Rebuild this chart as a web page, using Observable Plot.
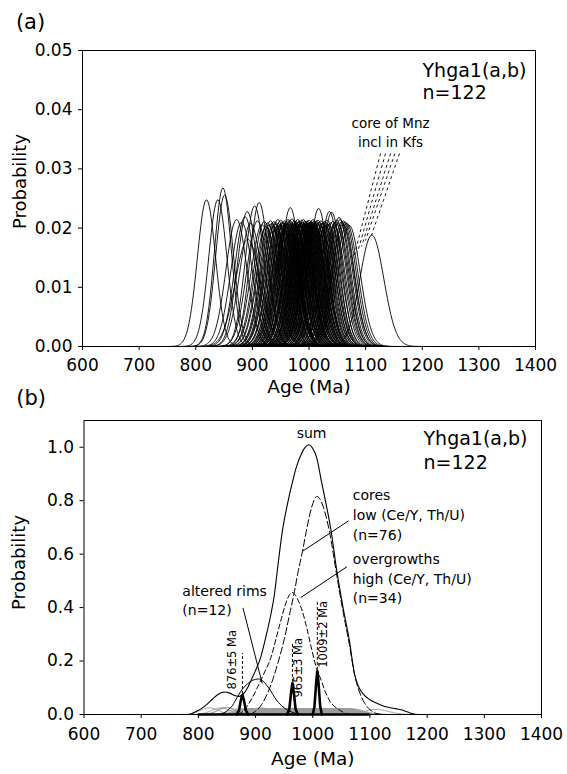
<!DOCTYPE html>
<html><head><meta charset="utf-8">
<script src="https://cdn.jsdelivr.net/npm/d3@7"></script>
<script src="https://cdn.jsdelivr.net/npm/@observablehq/plot@0.6"></script>
<style>
html,body{margin:0;padding:0;background:#fff;}
#wrap{position:relative;width:567px;height:774px;overflow:hidden;background:#fff;}
#wrap svg{position:absolute;left:0;overflow:visible;}
</style></head><body><div id="wrap"></div>
<script>
// ---------- DATA ----------
const xTicks = [600, 700, 800, 900, 1000, 1100, 1200, 1300, 1400];
const yTicksA = [0, 0.01, 0.02, 0.03, 0.04, 0.05];
const yTicksB = [0, 0.2, 0.4, 0.6, 0.8, 1.0];

// individual spot ages (Ma) and 1-sigma errors, n = 122
const ages = [
  819, 839, 848, 851,
  872, 881, 887, 891, 892, 897, 904, 909, 912,
  917, 921, 924,
  927, 929, 932, 934,
  936, 938, 940, 941, 943, 945,
  946, 948, 950, 951, 953, 954,
  955, 956, 958, 959, 960, 961, 962, 963, 964,
  965, 966, 967, 968, 970, 970, 971, 973, 974, 975,
  976, 977, 977, 979, 980, 981, 982, 983, 984, 985,
  986, 987, 988, 988, 989, 990, 991, 992, 993, 994, 995,
  996, 997, 998, 999, 1000, 1001, 1002, 1003, 1004, 1005,
  1006, 1007, 1008, 1009, 1009, 1010, 1012, 1013, 1014,
  1015, 1016, 1017, 1018, 1019, 1021, 1022, 1024,
  1026, 1027, 1029, 1030, 1032, 1034,
  1036, 1038, 1040, 1042, 1044,
  1047, 1049, 1051, 1053, 1055,
  1058, 1060, 1061, 1064,
  1067, 1071,
  1111
];
const sigmas = [
  16.1, 16.1, 14.9, 15.6,
  18.6, 19.0, 18.2, 17.5, 22.0, 19.2, 16.8, 18.8, 16.4,
  19.4, 18.9, 19.7,
  19.1, 19.5, 18.8, 19.2,
  19.6, 18.9, 19.3, 19.0, 19.8, 18.6,
  19.2, 19.5, 18.7, 19.4, 19.0, 19.6,
  19.1, 18.8, 19.4, 19.7, 18.9, 19.2, 19.5, 18.6, 19.3,
  19.0, 18.7, 17.0, 19.4, 19.2, 18.5, 19.6, 19.1, 18.8, 19.3,
  19.5, 18.9, 19.2, 19.7, 18.6, 19.0, 19.4, 18.8, 19.3, 19.6,
  19.1, 18.7, 19.5, 19.0, 19.3, 18.6, 19.8, 19.2, 18.9, 19.4, 19.0,
  19.3, 18.8, 19.6, 19.1, 18.7, 19.4, 19.0, 19.5, 18.9, 19.2,
  19.0, 18.6, 19.3, 19.7, 18.9, 19.2, 19.5, 18.8, 19.1,
  19.4, 18.7, 17.1, 19.0, 19.3, 18.8, 19.6, 19.1,
  19.2, 18.9, 19.5, 19.0, 18.7, 19.3,
  17.5, 19.1, 17.6, 18.9, 19.4,
  19.0, 18.7, 19.2, 18.3, 18.6,
  18.9, 19.3, 18.8, 19.0,
  19.2, 19.5,
  21.2
];

// panel (b) curves
const sumAges  = [785, 795, 805, 815, 825, 835, 845, 855, 865, 872, 880, 886, 892, 900, 909, 918, 927, 933, 938, 947, 955, 965, 972, 980, 987, 993, 1000, 1007, 1015, 1024, 1032, 1042, 1053, 1064, 1073, 1080, 1088, 1100, 1108, 1120, 1132, 1145, 1155, 1165, 1175, 1185];
const sumProbs = [0.000, 0.010, 0.022, 0.038, 0.058, 0.076, 0.084, 0.080, 0.070, 0.068, 0.080, 0.100, 0.127, 0.165, 0.214, 0.290, 0.377, 0.450, 0.538, 0.688, 0.780, 0.874, 0.930, 0.975, 1.000, 1.009, 0.995, 0.960, 0.874, 0.780, 0.688, 0.538, 0.400, 0.277, 0.152, 0.105, 0.077, 0.055, 0.046, 0.035, 0.027, 0.022, 0.018, 0.010, 0.003, 0.000];

const coreAges  = [890, 900, 910, 920, 930, 940, 950, 960, 968, 974, 982, 990, 998, 1003, 1007, 1012, 1018, 1024, 1030, 1036, 1042, 1053, 1064, 1073, 1080, 1090, 1100, 1110, 1120];
const coreProbs = [0.000, 0.012, 0.035, 0.075, 0.130, 0.200, 0.280, 0.380, 0.460, 0.530, 0.610, 0.700, 0.775, 0.805, 0.816, 0.808, 0.780, 0.735, 0.675, 0.600, 0.520, 0.385, 0.262, 0.150, 0.095, 0.045, 0.018, 0.005, 0.000];

const overAges  = [870, 878, 885, 893, 903, 915, 927, 936, 944, 952, 958, 964, 970, 976, 982, 990, 998, 1007, 1015, 1022, 1030, 1037, 1044, 1052, 1060, 1068];
const overProbs = [0.000, 0.012, 0.030, 0.058, 0.100, 0.155, 0.214, 0.285, 0.350, 0.410, 0.443, 0.457, 0.445, 0.420, 0.385, 0.320, 0.245, 0.170, 0.127, 0.085, 0.050, 0.032, 0.021, 0.010, 0.003, 0.000];

const rimAges  = [835, 845, 851, 860, 868, 877, 886, 895, 905, 913, 920, 926, 933, 940, 950, 962, 975, 985];
const rimProbs = [0.000, 0.006, 0.015, 0.035, 0.065, 0.095, 0.115, 0.128, 0.133, 0.125, 0.108, 0.090, 0.065, 0.045, 0.025, 0.010, 0.002, 0.000];

// weighted-mean age peaks
const peakLabels  = ["876\u00b15 Ma", "965\u00b13 Ma", "1009\u00b12 Ma"];
const peakAges    = [877, 964.5, 1008];
const peakHeights = [0.075, 0.120, 0.165];
const spike1Ages = [867, 871, 874, 877, 880, 883, 887];
const spike1Probs = [0, 0.015, 0.050, 0.075, 0.050, 0.015, 0];
const spike2Ages = [955, 959, 962, 964.5, 967, 970, 974];
const spike2Probs = [0, 0.020, 0.080, 0.120, 0.080, 0.020, 0];
const spike3Ages = [1000, 1003, 1006, 1008, 1010, 1013, 1016];
const spike3Probs = [0, 0.030, 0.120, 0.165, 0.120, 0.030, 0];

// ---------- BUILD ----------
const FONT = "'DejaVu Sans', sans-serif";
function pdfCurves() {
  const out = [];
  ages.forEach((a, i) => {
    const s = sigmas[i];
    const k = 1 / (s * Math.sqrt(2 * Math.PI));
    for (let x = a - 5 * s; x <= a + 5 * s + 0.01; x += 1.5) {
      out.push({id: i, x, y: k * Math.exp(-0.5 * ((x - a) / s) ** 2)});
    }
  });
  return out;
}
const curves = pdfCurves();
const zip = (xs, ys, id) => xs.map((x, i) => ({id, x, y: ys[i]}));
const sumData = zip(sumAges, sumProbs, "sum");
const coreData = zip(coreAges, coreProbs, "cores");
const overData = zip(overAges, overProbs, "over");
const rimData = zip(rimAges, rimProbs, "rims");
const spikes = [
  ...zip(spike1Ages, spike1Probs, 1),
  ...zip(spike2Ages, spike2Probs, 2),
  ...zip(spike3Ages, spike3Probs, 3)
];

const style = {fontFamily: FONT, fontSize: "17px", color: "black", background: "transparent", overflow: "visible"};
const T = d => d;
const C = {textAnchor: "middle", lineAnchor: "middle"};

const plotA = Plot.plot({
  width: 567, height: 400,
  marginLeft: 82, marginRight: 32, marginTop: 50, marginBottom: 54,
  style,
  x: {domain: [600, 1400], ticks: xTicks, tickFormat: d => String(d), tickSize: 4, tickPadding: 8, label: null},
  y: {domain: [0, 0.05], ticks: yTicksA, tickFormat: d3.format(".2f"), tickSize: 4, tickPadding: 6, label: null},
  marks: [
    Plot.line(curves, {x: "x", y: "y", z: "id", stroke: "black", strokeWidth: 0.9}),
    Plot.frame({stroke: "black", strokeWidth: 1}),
    Plot.link([0, 1, 2, 3, 4], {
      x1: [1126.3, 1135.1, 1144, 1151.5, 1159.8], y1: [0.0326, 0.0326, 0.0326, 0.0326, 0.0326],
      x2: [1078.6, 1085.7, 1092.8, 1099.8, 1110.4], y2: [0.0149, 0.0159, 0.0169, 0.0179, 0.0188],
      stroke: "black", strokeWidth: 0.9, strokeDasharray: "3,3"
    }),
    Plot.text(["core of Mnz"], {text: T, x: 1144, y: 0.0377, fontSize: 13.5, ...C}),
    Plot.text(["incl in Kfs"], {text: T, x: 1144, y: 0.0344, fontSize: 13.5, ...C}),
    Plot.text(["Yhga1(a,b)"], {text: T, frameAnchor: "top-right", dx: -113, dy: 20, textAnchor: "start", lineAnchor: "middle", fontSize: 19}),
    Plot.text(["n=122"], {text: T, frameAnchor: "top-right", dx: -113, dy: 42, textAnchor: "start", lineAnchor: "middle", fontSize: 19}),
    Plot.text(["Age (Ma)"], {text: T, frameAnchor: "bottom", dy: 41, fontSize: 18.5, ...C}),
    Plot.text(["Probability"], {text: T, frameAnchor: "left", dx: -62.5, dy: -17, rotate: -90, fontSize: 18, ...C}),
    Plot.text(["(a)"], {text: T, frameAnchor: "top-left", dx: -52, dy: -28, fontSize: 21, ...C})
  ]
});

const plotB = Plot.plot({
  width: 567, height: 374,
  marginLeft: 83.5, marginRight: 26, marginTop: 20, marginBottom: 60,
  style,
  x: {domain: [600, 1400], ticks: xTicks, tickFormat: d => String(d), tickSize: 4, tickPadding: 9, label: null},
  y: {domain: [0, 1.1], ticks: yTicksB, tickFormat: d3.format(".1f"), tickSize: 4, tickPadding: 6, label: null},
  marks: [
    Plot.line(curves, {x: "x", y: "y", z: "id", stroke: "#9c9c9c", strokeWidth: 1}),
    Plot.ruleY([0], {x1: 800, x2: 1100, stroke: "black", strokeWidth: 2.5}),
    Plot.line(rimData, {x: "x", y: "y", stroke: "black", strokeWidth: 1, curve: "monotone-x"}),
    Plot.line(overData, {x: "x", y: "y", stroke: "black", strokeWidth: 1, strokeDasharray: "5,3", curve: "monotone-x"}),
    Plot.line(coreData, {x: "x", y: "y", stroke: "black", strokeWidth: 1, strokeDasharray: "7,3", curve: "monotone-x"}),
    Plot.line(sumData, {x: "x", y: "y", stroke: "black", strokeWidth: 1.1, curve: "monotone-x"}),
    Plot.line(spikes, {x: "x", y: "y", z: "id", stroke: "black", strokeWidth: 2.6, strokeLinejoin: "miter"}),
    Plot.ruleX(peakAges, {x: d => d, y1: peakHeights, y2: [0.228, 0.265, 0.42], stroke: "black", strokeWidth: 1, strokeDasharray: "3,2"}),
    Plot.text(peakLabels, {text: T, x: [860, 975.5, 1018.4], y: [0.205, 0.175, 0.30], rotate: -90, fontSize: 11.5, ...C}),
    Plot.link([0, 1, 2], {
      x1: [1063, 1060, 878], y1: [0.725, 0.553, 0.399],
      x2: [981.6, 978.7, 911.6], y2: [0.610, 0.437, 0.116],
      stroke: "black", strokeWidth: 1
    }),
    Plot.text(["sum"], {text: T, x: 998, y: 1.05, fontSize: 14, ...C}),
    Plot.text(["cores", "low (Ce/Y, Th/U)", "(n=76)", "overgrowths", "high (Ce/Y, Th/U)", "(n=34)"], {
      text: T, x: 1070, y: [0.818, 0.744, 0.669, 0.579, 0.506, 0.433], textAnchor: "start", lineAnchor: "middle", fontSize: 14
    }),
    Plot.text(["altered rims", "(n=12)"], {text: T, x: 772, y: [0.46, 0.389], textAnchor: "start", lineAnchor: "middle", fontSize: 14}),
    Plot.frame({stroke: "black", strokeWidth: 1}),
    Plot.text(["Yhga1(a,b)"], {text: T, frameAnchor: "top-right", dx: -118, dy: 18.6, textAnchor: "start", lineAnchor: "middle", fontSize: 19}),
    Plot.text(["n=122"], {text: T, frameAnchor: "top-right", dx: -118, dy: 42, textAnchor: "start", lineAnchor: "middle", fontSize: 19}),
    Plot.text(["Age (Ma)"], {text: T, frameAnchor: "bottom", dy: 45, fontSize: 18.5, ...C}),
    Plot.text(["Probability"], {text: T, frameAnchor: "left", dx: -64.5, dy: -5, rotate: -90, fontSize: 18, ...C}),
    Plot.text(["(b)"], {text: T, frameAnchor: "top-left", dx: -52.8, dy: -22, fontSize: 21, ...C})
  ]
});

const wrap = document.getElementById("wrap");
plotA.style.top = "0px";
plotB.style.top = "400px";
wrap.appendChild(plotA);
wrap.appendChild(plotB);
</script>
</body></html>
